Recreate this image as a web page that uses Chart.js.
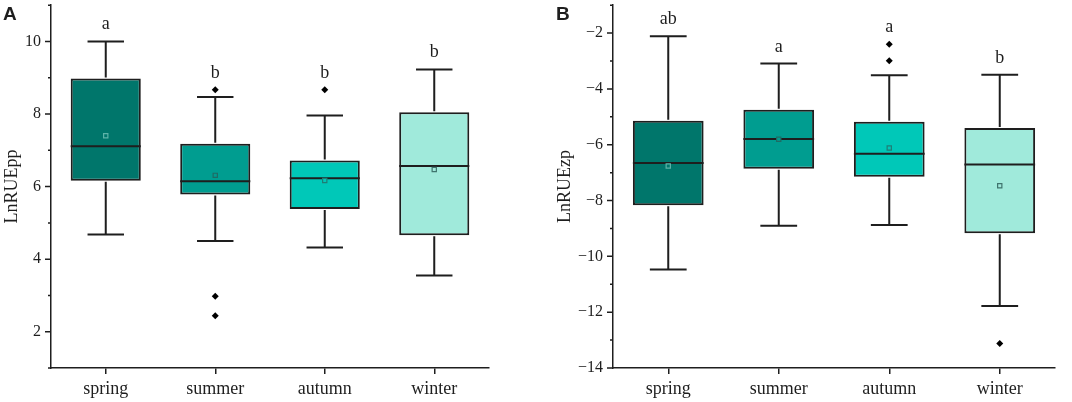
<!DOCTYPE html>
<html>
<head>
<meta charset="utf-8">
<script src="https://cdn.jsdelivr.net/npm/chart.js@4/dist/chart.umd.min.js"></script>
<style>
html,body{margin:0;padding:0;background:#fff;}
#wrap{display:flex;width:1072px;height:402px;}
canvas{display:block;}
</style>
</head>
<body>
<div id="wrap">
<canvas id="cA" width="536" height="402"></canvas>
<canvas id="cB" width="536" height="402"></canvas>
</div>
<script>
// ---- data ----
const categories = ['spring', 'summer', 'autumn', 'winter'];

// Panel A: LnRUEpp
const aLow    = [4.68, 4.50, 4.32, 3.55];
const aQ1     = [6.16, 5.78, 5.38, 4.66];
const aMedian = [7.11, 6.15, 6.23, 6.57];
const aQ3     = [8.98, 7.18, 6.72, 8.05];
const aHigh   = [10.00, 8.47, 7.96, 9.23];
const aMean   = [7.40, 6.31, 6.17, 6.47];
const aOutliers = [[], [8.67, 2.98, 2.44], [8.67], []];
const aLetters  = ['a', 'b', 'b', 'b'];

// Panel B: LnRUEzp
const bLow    = [-10.47, -8.90, -8.88, -11.78];
const bQ1     = [-8.17, -6.86, -7.15, -9.17];
const bMedian = [-6.65, -5.79, -6.32, -6.71];
const bQ3     = [-5.14, -4.75, -5.18, -5.40];
const bHigh   = [-2.11, -3.09, -3.51, -3.49];
const bMean   = [-6.76, -5.80, -6.12, -7.47];
const bOutliers = [[], [], [-2.40, -2.99], [-13.12]];
const bLetters  = ['ab', 'a', 'a', 'b'];

const boxColors = ['#00766B', '#009D90', '#00C8B8', '#A0EADB'];
const meanEdge  = ['#5DB3A8', '#1F6B64', '#1F7D75', '#3F746E'];
const INK = '#1e1e1e';
const SERIF = '"Liberation Serif", "Times New Roman", serif';

function fmt(v) { return (v < 0 ? '\u2212' + Math.abs(v) : String(v)); }

function makeChart(id, cfg) {
  const boxPlugin = {
    id: 'boxparts',
    afterDatasetDraw(chart, args) {
      if (args.index !== 0) return;
      const ctx = chart.ctx;
      const x = chart.scales.x, y = chart.scales.y;
      const meta = chart.getDatasetMeta(0);
      ctx.save();
      ctx.strokeStyle = INK;
      ctx.lineWidth = 2;
      ctx.lineCap = 'butt';
      categories.forEach((c, i) => {
        const el = meta.data[i];
        const cx = x.getPixelForValue(i);
        const w = el.width;
        const cap = w * 0.26;
        const pLow = y.getPixelForValue(cfg.low[i]);
        const pHigh = y.getPixelForValue(cfg.high[i]);
        const pQ1 = y.getPixelForValue(cfg.q1[i]);
        const pQ3 = y.getPixelForValue(cfg.q3[i]);
        const pMed = y.getPixelForValue(cfg.median[i]);
        ctx.beginPath();
        ctx.moveTo(cx, pQ3 - 1); ctx.lineTo(cx, pHigh);
        ctx.moveTo(cx - cap, pHigh); ctx.lineTo(cx + cap, pHigh);
        ctx.moveTo(cx, pQ1 + 1); ctx.lineTo(cx, pLow);
        ctx.moveTo(cx - cap, pLow); ctx.lineTo(cx + cap, pLow);
        ctx.moveTo(cx - w / 2, pMed); ctx.lineTo(cx + w / 2, pMed);
        ctx.stroke();
      });
      ctx.restore();
    },
    afterDraw(chart) {
      const ctx = chart.ctx;
      const x = chart.scales.x, y = chart.scales.y;
      ctx.save();
      // minor / major ticks on y axis
      ctx.strokeStyle = INK;
      ctx.lineWidth = 1.5;
      const left = chart.chartArea.left;
      ctx.beginPath();
      y.ticks.forEach(t => {
        const py = y.getPixelForValue(t.value);
        const len = (t.value % 2 === 0) ? 6 : 3;
        ctx.moveTo(left, py); ctx.lineTo(left - len, py);
      });
      ctx.stroke();
      // significance letters
      ctx.fillStyle = INK;
      ctx.font = '18px ' + SERIF;
      ctx.textAlign = 'center';
      ctx.textBaseline = 'alphabetic';
      categories.forEach((c, i) => {
        const top = Math.max(cfg.high[i], ...cfg.outliers[i]);
        const py = y.getPixelForValue(top);
        ctx.fillText(cfg.letters[i], x.getPixelForValue(i), py - 12);
      });
      // panel letter
      ctx.font = 'bold 19px "Liberation Sans", Arial, sans-serif';
      ctx.textAlign = 'left';
      ctx.fillText(cfg.panel, cfg.panelX, 20);
      ctx.restore();
    }
  };

  const outlierPts = [];
  cfg.outliers.forEach((arr, i) => arr.forEach(v => outlierPts.push({x: categories[i], y: v})));
  const meanPts = cfg.mean.map((v, i) => ({x: categories[i], y: v}));

  return new Chart(document.getElementById(id), {
    type: 'bar',
    data: {
      labels: categories,
      datasets: [
        {
          type: 'bar',
          data: categories.map((c, i) => [cfg.q1[i], cfg.q3[i]]),
          backgroundColor: boxColors,
          borderColor: INK,
          borderWidth: 2,
          borderSkipped: false,
          barPercentage: 0.64,
          categoryPercentage: 1,
          grouped: false,
          order: 3
        },
        {
          type: 'line',
          data: meanPts,
          showLine: false,
          pointStyle: 'rect',
          pointRadius: 3,
          pointBorderWidth: 1.2,
          pointBackgroundColor: boxColors,
          pointBorderColor: meanEdge,
          order: 2
        },
        {
          type: 'line',
          data: outlierPts,
          showLine: false,
          pointStyle: 'rectRot',
          pointRadius: 3.5,
          pointBorderWidth: 0,
          pointBackgroundColor: '#000',
          pointBorderColor: '#000',
          order: 1
        }
      ]
    },
    options: {
      responsive: false,
      animation: false,
      events: [],
      layout: { padding: { left: cfg.padLeft, right: cfg.padRight, top: 3, bottom: 0 } },
      plugins: { legend: { display: false }, tooltip: { enabled: false } },
      scales: {
        x: {
          type: 'category',
          offset: true,
          grid: { display: true, offset: false, drawOnChartArea: false, drawTicks: true, tickLength: 6, color: INK, lineWidth: 1.5 },
          border: { display: true, color: INK, width: 1.5 },
          ticks: { color: INK, padding: 4, font: { family: SERIF, size: 18 }, maxRotation: 0 },
          afterFit(s) { s.height = 34; s.paddingLeft = 0; s.paddingRight = 0; }
        },
        y: {
          min: cfg.min, max: cfg.max,
          grid: { display: false, drawTicks: false },
          border: { display: true, color: INK, width: 1.5 },
          ticks: {
            stepSize: 1, autoSkip: false, color: INK, padding: 10,
            font: { family: SERIF, size: 16 },
            callback: v => (v % 2 === 0 ? fmt(v) : '')
          },
          title: { display: true, text: cfg.title, color: INK, font: { family: SERIF, size: 18 }, padding: { top: 1, bottom: 0 } },
          afterFit(s) { s.width = cfg.axisWidth; s.paddingTop = 0; s.paddingBottom = 0; }
        }
      }
    },
    plugins: [boxPlugin]
  });
}

makeChart('cA', {
  low: aLow, q1: aQ1, median: aMedian, q3: aQ3, high: aHigh, mean: aMean,
  outliers: aOutliers, letters: aLetters,
  min: 1, max: 11, title: 'LnRUEpp', panel: 'A', panelX: 3,
  padLeft: 0, padRight: 47, axisWidth: 51
});
makeChart('cB', {
  low: bLow, q1: bQ1, median: bMedian, q3: bQ3, high: bHigh, mean: bMean,
  outliers: bOutliers, letters: bLetters,
  min: -14, max: -1, title: 'LnRUEzp', panel: 'B', panelX: 20,
  padLeft: 17, padRight: 17, axisWidth: 60
});
</script>
</body>
</html>
